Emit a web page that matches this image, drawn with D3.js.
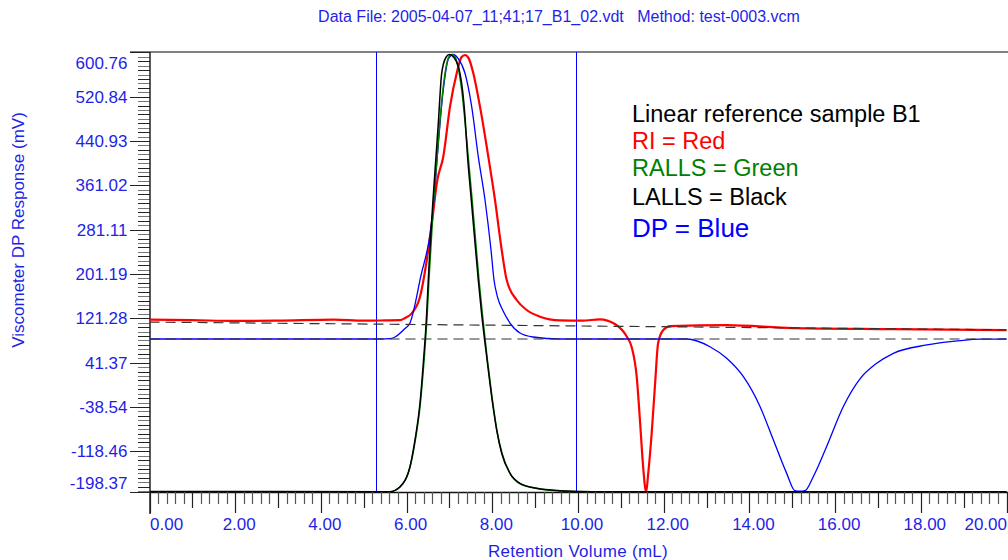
<!DOCTYPE html>
<html>
<head>
<meta charset="utf-8">
<style>
  body { margin: 0; background: #fff; }
  text { font-family: "Liberation Sans", Arial, sans-serif; }
</style>
<script src="https://d3js.org/d3.v7.min.js"></script>
</head>
<body>
<svg width="1008" height="560"></svg>
<script>
// tick labels as printed on the chart
var xTickLabels = ["0.00", "2.00", "4.00", "6.00", "8.00", "10.00", "12.00", "14.00", "16.00", "18.00", "20.00"];
var yTickLabels = ["600.76", "520.84", "440.93", "361.02", "281.11", "201.19", "121.28", "41.37", "-38.54", "-118.46", "-198.37"];

// traces: [retention volume (mL), response]
var riRed = [[0, 119], [1, 118], [2, 116.5], [3, 117], [4.3, 119], [5, 117], [5.5, 117.5], [5.85, 118],
  [5.963, 121.9], [6.119, 130.3], [6.313, 160], [6.47, 226], [6.6, 300], [6.716, 370], [6.856, 412.7],
  [7.013, 502.9], [7.169, 563.1], [7.28, 592], [7.363, 596.1], [7.45, 590], [7.557, 563.1], [7.713, 502.9],
  [7.907, 412.7], [8.063, 334.6], [8.22, 244.5], [8.336, 190.4], [8.569, 154.3], [8.803, 136.3],
  [9.113, 124.2], [9.58, 117.5], [10.1, 117], [10.51, 119.5], [10.86, 111.0], [11.14, 88.1], [11.25, 70.1],
  [11.37, 16.0], [11.45, -67.5], [11.52, -146.3], [11.59, -192], [11.64, -157.6], [11.72, -85.5],
  [11.8, 4.6], [11.87, 76.7], [11.99, 100.1], [12.15, 107.3], [13.47, 109.1], [15.02, 103.7],
  [17.35, 101.9], [20, 100.1]];

var rallsGreen = [[0, -191.5], [5.6, -191.5], [5.846, -183], [6.079, -147], [6.2, -100], [6.32, -33],
  [6.4, 38], [6.48, 128], [6.52, 188], [6.63, 332], [6.71, 410], [6.77, 470], [6.896, 563.1], [6.98, 592],
  [7.05, 597], [7.12, 594], [7.286, 533], [7.403, 442.8], [7.53, 334], [7.69, 190], [7.77, 128], [7.88, 50],
  [7.996, -22], [8.11, -82], [8.23, -123], [8.42, -159], [8.65, -177], [9.04, -185.5], [9.58, -190],
  [10.35, -191.5], [20, -191.5]];

var lallsBlack = [[0, -191], [5.613, -191.3], [5.846, -182.3], [6.079, -146.3], [6.196, -98.1],
  [6.313, -31.4], [6.39, 40.2], [6.469, 130.3], [6.506, 190.4], [6.616, 334.6], [6.686, 412.7],
  [6.74, 472.9], [6.819, 563.1], [6.92, 592], [7.0, 597], [7.1, 592], [7.246, 563.1], [7.363, 484.8],
  [7.417, 418.8], [7.51, 334.6], [7.673, 190.4], [7.75, 130.3], [7.869, 52.1], [7.986, -20.1],
  [8.103, -80.1], [8.219, -122.1], [8.413, -158.2], [8.646, -176.2], [9.036, -185.2], [9.58, -189.5],
  [10.35, -191.3], [20, -191.5]];

var dpBlue = [[0, 84], [5.4, 84], [5.613, 84.5], [5.729, 87.6], [5.963, 103], [6.079, 112.8],
  [6.313, 190.4], [6.639, 334.6], [6.716, 412.7], [6.856, 533.0], [6.98, 590], [7.083, 597],
  [7.2, 590], [7.363, 563.1], [7.519, 502.9], [7.673, 412.7], [7.83, 334.6], [7.97, 244.5],
  [8.04, 190.4], [8.12, 160], [8.25, 135], [8.413, 112.8], [8.646, 94.8], [8.95, 87.6], [9.58, 84.0], [12.54, 84.0],
  [13.08, 70.1], [13.47, 49.2], [13.86, 16.0], [14.25, -38.1], [14.56, -98.1], [14.87, -158.3],
  [15.06, -189.5], [15.18, -190.5], [15.3, -189.5], [15.49, -164.3], [15.8, -110.2], [16.19, -38.1], [16.59, 13.1],
  [16.97, 40.2], [17.36, 58.2], [18.14, 73.2], [18.92, 81.0], [19.38, 83.6], [20, 84]];

// dashed baselines and integration limits
var baselines = [[[0, 114.5], [20, 100.5]], [[0, 84], [20, 84]]];
var limits = [5.286, 9.953];

var legendLines = [
  {text: "Linear reference sample B1", color: "#000000"},
  {text: "RI = Red", color: "#ff0000"},
  {text: "RALLS = Green", color: "#008000"},
  {text: "LALLS = Black", color: "#000000"},
  {text: "DP = Blue", color: "#0000ff"}
];

var svg = d3.select("svg");
var axisBlue = "#1f1fe6";
var top_ = 52, bottom = 492, left = 150, right = 1008;

var x = d3.scaleLinear().domain([0, 20]).range([149.5, 1006.5]);
var y = d3.scaleLinear().domain([-198.37, 600.76]).range([495.6, 52.4]);

svg.append("defs").append("clipPath").attr("id", "plot")
  .append("rect").attr("x", left).attr("y", top_).attr("width", right - left).attr("height", bottom - top_);

// title
svg.append("text")
  .attr("x", 559).attr("y", 22)
  .attr("text-anchor", "middle")
  .attr("fill", axisBlue)
  .style("font-size", "16px")
  .attr("xml:space", "preserve")
  .text("Data File: 2005-04-07_11;41;17_B1_02.vdt   Method: test-0003.vcm");

// top frame line
svg.append("line").attr("x1", 130).attr("x2", right).attr("y1", top_).attr("y2", top_)
  .attr("stroke", "#808080").attr("stroke-width", 2);

// y axis
var yg = svg.append("g");
var yStep = (600.76 - (-198.37)) / 10;
d3.range(0, 101).forEach(function(i) {
  var v = -198.37 + i * yStep / 10;
  var py = y(v);
  if (py < top_ - 0.5 || py > bottom + 0.5) return;
  yg.append("line").attr("x1", 138).attr("x2", left).attr("y1", Math.round(py) + 0.5).attr("y2", Math.round(py) + 0.5)
    .attr("stroke", i % 2 ? "#777" : "#222").attr("stroke-width", 1);
});
yTickLabels.forEach(function(t) {
  var v = +t;
  var py = Math.max(top_, Math.min(bottom, y(v)));
  yg.append("line").attr("x1", 130).attr("x2", left).attr("y1", Math.round(py) + 0.5).attr("y2", Math.round(py) + 0.5)
    .attr("stroke", "#222");
  yg.append("text")
    .attr("x", 127.5).attr("y", Math.max(63.3, Math.min(483, y(v))))
    .attr("dy", "0.36em")
    .attr("text-anchor", "end")
    .attr("fill", axisBlue)
    .style("font-size", "17px")
    .text(t);
});
yg.append("line").attr("x1", left).attr("x2", left).attr("y1", top_).attr("y2", 514)
  .attr("stroke", "#222").attr("stroke-width", 1.5);

svg.append("text")
  .attr("transform", "translate(24,230) rotate(-90)")
  .attr("text-anchor", "middle")
  .attr("fill", axisBlue)
  .style("font-size", "17px")
  .text("Viscometer DP Response (mV)");

// x axis
var xg = svg.append("g");
xg.append("line").attr("x1", left).attr("x2", right).attr("y1", bottom + 0.5).attr("y2", bottom + 0.5)
  .attr("stroke", "#111").attr("stroke-width", 1.5);
d3.range(0, 101).forEach(function(i) {
  var px = Math.round(x(i * 0.2)) + 0.5;
  var len = i % 10 === 0 ? 21 : (i % 5 === 0 ? 16 : 12);
  xg.append("line").attr("x1", px).attr("x2", px).attr("y1", bottom).attr("y2", bottom + len)
    .attr("stroke", i % 5 === 0 ? "#222" : "#555").attr("stroke-width", 1.2);
});
xTickLabels.forEach(function(t, i) {
  var txt = xg.append("text")
    .attr("y", 530)
    .attr("fill", axisBlue)
    .style("font-size", "17px")
    .text(t);
  var px = x(+t) + 4;
  if (i === 0) { txt.attr("x", left).attr("text-anchor", "start"); }
  else if (i === xTickLabels.length - 1) { txt.attr("x", 1007).attr("text-anchor", "end"); }
  else { txt.attr("x", px).attr("text-anchor", "middle"); }
});
svg.append("text")
  .attr("x", 578).attr("y", 557)
  .attr("text-anchor", "middle")
  .attr("fill", axisBlue)
  .style("font-size", "17px")
  .style("letter-spacing", "0.3px")
  .text("Retention Volume (mL)");

// plot
var plot = svg.append("g").attr("clip-path", "url(#plot)");
var line = d3.line().curve(d3.curveMonotoneX)
  .x(function(d) { return x(d[0]); }).y(function(d) { return y(d[1]); });

limits.forEach(function(v) {
  plot.append("line").attr("x1", Math.round(x(v)) + 0.5).attr("x2", Math.round(x(v)) + 0.5)
    .attr("y1", top_).attr("y2", bottom).attr("stroke", "#0000ff").attr("stroke-width", 1);
});

plot.append("path").datum(riRed).attr("d", line)
  .attr("fill", "none").attr("stroke", "#ff0000").attr("stroke-width", 2.2);
plot.append("path").datum(dpBlue).attr("d", line)
  .attr("fill", "none").attr("stroke", "#0000ff").attr("stroke-width", 1.3);
plot.append("path").datum(rallsGreen).attr("d", line)
  .attr("fill", "none").attr("stroke", "#008000").attr("stroke-width", 1.5);
plot.append("path").datum(lallsBlack).attr("d", line)
  .attr("fill", "none").attr("stroke", "#000000").attr("stroke-width", 1.5);

baselines.forEach(function(b) {
  plot.append("path").datum(b).attr("d", line)
    .attr("fill", "none").attr("stroke", "#333").attr("stroke-width", 1.2)
    .attr("stroke-dasharray", "10,6");
});

// legend
var legendY = [121.7, 149.3, 176, 205, 237.3];
legendLines.forEach(function(l, i) {
  svg.append("text")
    .attr("x", 632).attr("y", legendY[i])
    .attr("fill", l.color)
    .style("font-size", i === 4 ? "26px" : "23.5px")
    .text(l.text);
});
</script>
</body>
</html>
